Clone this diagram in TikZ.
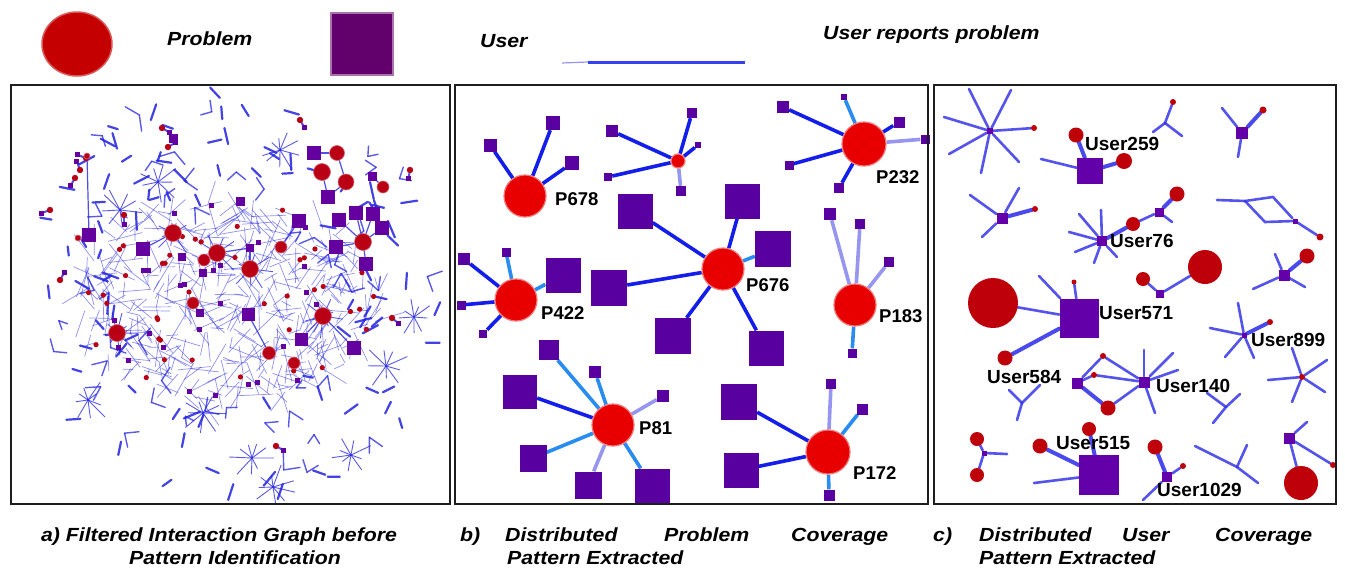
\documentclass[tikz,border=0pt]{standalone}
\usepackage{fontspec}
\setmainfont{Liberation Sans}
\newfontfamily\capfont[FakeStretch=1.12]{Liberation Sans}
\usetikzlibrary{backgrounds,shapes.geometric,calc}

\definecolor{legred}{RGB}{196,0,0}
\definecolor{legpurple}{RGB}{98,0,108}
\definecolor{bred}{RGB}{232,0,0}
\definecolor{bredrim}{RGB}{240,120,120}
\definecolor{bpurple}{RGB}{88,0,160}
\definecolor{dblue}{RGB}{20,30,235}
\definecolor{sky}{RGB}{40,140,240}
\definecolor{pale}{RGB}{150,150,240}
\definecolor{cred}{RGB}{190,0,10}
\definecolor{cpurple}{RGB}{100,0,170}
\definecolor{cblue}{RGB}{55,55,235}
\definecolor{ared}{RGB}{185,0,20}
\definecolor{apurple}{RGB}{100,0,160}
\definecolor{ablue}{RGB}{35,35,225}
\definecolor{framecol}{RGB}{30,30,30}

\tikzset{
  prob/.style={circle, inner sep=0pt, minimum size=#1, fill=bred, draw=bredrim, line width=1.2pt},
  usr/.style={rectangle, inner sep=0pt, minimum size=#1, fill=bpurple},
  edark/.style={draw=dblue, line width=3.6pt},
  esky/.style={draw=sky, line width=3.6pt},
  epale/.style={draw=pale, line width=3.6pt},
  plabel/.style={font=\fontsize{18.5}{20}\selectfont\bfseries, inner sep=0pt, anchor=west},
  cprob/.style={circle, inner sep=0pt, minimum size=#1, fill=cred},
  cusr/.style={rectangle, inner sep=0pt, minimum size=#1, fill=cpurple},
  cedge/.style={draw=cblue, line width=2.6pt, opacity=0.85, line cap=round},
  cthick/.style={draw=cblue, line width=4pt, opacity=0.9, line cap=round},
  ulabel/.style={font=\fontsize{19}{20}\selectfont\bfseries, inner sep=0pt, anchor=west},
  aprob/.style={circle, inner sep=0pt, minimum size=#1, fill=ared, draw=ared!60!white, line width=0.6pt},
  ausr/.style={rectangle, inner sep=0pt, minimum size=#1, fill=apurple},
  aweb/.style={draw=ablue, line width=0.7pt, opacity=0.5},
  aseg/.style={draw=ablue, line width=2.2pt, opacity=0.85, line cap=round},
  alink/.style={draw=ablue, line width=1.2pt, opacity=0.8},
  captxt/.style={font=\capfont\fontsize{19}{21}\selectfont\bfseries\itshape, inner sep=0pt, anchor=base west},
  panel/.style={draw=framecol, line width=2pt},
}

% spokes from a hub to named free ends
\newcommand\fan[3]{%
  \foreach \fx/\fy [count=\fk] in {#3}{%
    \coordinate (#2\fk) at (\fx,\fy);
    \draw[cedge] (#1) -- (#2\fk);}}

\begin{document}
\begin{tikzpicture}[x=1pt,y=-1pt]
\useasboundingbox (0,0) rectangle (1345,571);
\begin{scope}[on background layer]
  \fill[white] (0,0) rectangle (1345,571);
\end{scope}

% ---------------- legend ----------------
\node[ellipse, minimum width=70, minimum height=64, inner sep=0pt, fill=legred, draw=legred!65!white, line width=1.5pt] (legP) at (77,44) {};
\node[font=\capfont\fontsize{19}{21}\selectfont\bfseries\itshape, anchor=base west, inner sep=0pt] (legPt) at (167,45) {Problem};
\node[rectangle, minimum width=62, minimum height=62, inner sep=0pt, fill=legpurple, draw=legpurple!55!white, line width=2.5pt] (legU) at (362,44) {};
\node[font=\capfont\fontsize{19}{21}\selectfont\bfseries\itshape, anchor=base west, inner sep=0pt] (legUt) at (480,47) {User};
\coordinate (legA) at (562,63);
\coordinate (legB) at (588,62);
\coordinate (legC) at (745,62);
\draw[draw=pale, line width=1.2pt] (legA) -- (legB);
\draw[draw=dblue!85!white, line width=3pt] (legB) -- (legC);
\node[font=\capfont\fontsize{19}{21}\selectfont\bfseries\itshape, anchor=base west, inner sep=0pt] (legEt) at (823,39) {User reports problem};

% ---------------- panel a: filtered interaction graph ----------------
\begin{scope}
  \clip (12,86) rectangle (448,503);
  \pgfmathsetseed{4242}
  % scattered short fragments on an outer ring
  \foreach \i in {1,...,95}{
    \pgfmathsetmacro\qr{0.5+0.5*rnd}
    \pgfmathsetmacro\qa{360*rnd}
    \pgfmathsetmacro\qx{230+212*\qr*cos(\qa)}
    \pgfmathsetmacro\qy{295+205*\qr*sin(\qa)}
    \pgfmathsetmacro\qb{360*rnd}
    \pgfmathsetmacro\ql{9+9*rnd}
    \draw[aseg] (\qx,\qy) -- ++(\qb:\ql);
  }
  % scattered V-shaped pairs
  \foreach \i in {1,...,45}{
    \pgfmathsetmacro\qr{0.45+0.55*rnd}
    \pgfmathsetmacro\qa{360*rnd}
    \pgfmathsetmacro\qx{230+212*\qr*cos(\qa)}
    \pgfmathsetmacro\qy{295+205*\qr*sin(\qa)}
    \pgfmathsetmacro\qb{360*rnd}
    \pgfmathsetmacro\qc{\qb+50+80*rnd}
    \pgfmathsetmacro\ql{9+8*rnd}
    \draw[aseg, line width=1.4pt, opacity=0.75] (\qx,\qy) -- ++(\qb:\ql);
    \draw[aseg, line width=1.4pt, opacity=0.75] (\qx,\qy) -- ++(\qc:\ql);
  }
  % dense web in the middle
  \foreach \i in {1,...,430}{
    \pgfmathsetmacro\qr{sqrt(rnd)}
    \pgfmathsetmacro\qa{360*rnd}
    \pgfmathsetmacro\qx{228+152*\qr*cos(\qa)}
    \pgfmathsetmacro\qy{300+100*\qr*sin(\qa)}
    \pgfmathsetmacro\qb{360*rnd}
    \pgfmathsetmacro\ql{10+28*rnd}
    \draw[aweb] (\qx,\qy) -- ++(\qb:\ql);
  }
  % small stars
  \foreach \hx/\hy in {117/333, 203/413, 88/400, 252/458, 351/455, 386/366, 414/317, 273/487, 158/182, 217/253, 323/316, 173/233, 250/269, 280/150, 120/210}{
    \foreach \k in {1,...,9}{
      \pgfmathsetmacro\qb{40*\k+25*rnd}
      \pgfmathsetmacro\ql{10+14*rnd}
      \draw[aweb, opacity=0.75, line width=0.9pt] (\hx,\hy) -- ++(\qb:\ql);
    }
  }
  % small problems and users inside the web
  \foreach \i in {1,...,40}{
    \pgfmathsetmacro\qr{sqrt(rnd)}
    \pgfmathsetmacro\qa{360*rnd}
    \pgfmathsetmacro\qx{228+150*\qr*cos(\qa)}
    \pgfmathsetmacro\qy{298+100*\qr*sin(\qa)}
    \fill[ared] (\qx,\qy) circle (2.6);
  }
  \foreach \i in {1,...,28}{
    \pgfmathsetmacro\qr{sqrt(rnd)}
    \pgfmathsetmacro\qa{360*rnd}
    \pgfmathsetmacro\qx{228+150*\qr*cos(\qa)}
    \pgfmathsetmacro\qy{298+100*\qr*sin(\qa)}
    \fill[apurple] (\qx-2.5,\qy-2.5) rectangle ++(5,5);
  }
  % dumbbells: one user, one problem
  \foreach \hx/\hy/\ha in {162/128/30, 75/178/120, 60/280/-60, 86/158/200, 392/318/40, 276/446/30, 124/215/90, 168/147/-30, 80/170/250, 410/170/100, 300/120/60, 50/210/160}{
    \draw[alink, line width=2pt] (\hx,\hy) -- ++(\ha:9);
    \fill[ared] (\hx,\hy) circle (3.2);
    \fill[apurple] ($(\hx,\hy)+(\ha:9)$) ++(-2.5,-2.5) rectangle ++(5,5);
  }
\end{scope}

% larger problems and users of panel a
\foreach \nx/\ny/\ns [count=\n] in {314/153/14, 328/197/14, 372/176/9, 356/213/14, 373/214/14, 339/220/14, 382/228/14, 336/247/14, 366/264/14, 299/221/14, 240/201/9, 143/249/14, 89/235/14, 173/138/9, 182/257/8, 203/273/8, 250/248/8, 248/314/13, 301/339/13, 354/348/14, 200/313/8}{
  \node[ausr=\ns] (au\n) at (\nx,\ny) {};
}
\foreach \nx/\ny/\ns [count=\n] in {337/153/15, 322/172/17, 346/182/16, 383/187/12, 363/242/17, 173/233/17, 217/253/17, 204/260/12, 250/269/17, 281/247/12, 193/303/12, 323/316/17, 117/333/17, 269/353/13, 294/363/12, 87/156/6, 78/238/6}{
  \node[aprob=\ns] (ap\n) at (\nx,\ny) {};
}
\begin{scope}[on background layer]
  \draw[alink] (au1) -- (ap1);
  \draw[alink] (ap2) -- (au2);
  \draw[alink] (ap3) -- (au2);
  \draw[alink] (ap1) -- (ap3);
  \draw[alink] (au4) -- (ap5);
  \draw[alink] (au5) -- (ap5);
  \draw[alink] (au7) -- (ap5);
  \draw[alink] (au6) -- (ap5);
  \draw[alink] (au8) -- (ap5);
  \draw[alink] (au9) -- (ap5);
  \draw[alink] (au3) -- (ap4);
  \draw[alink] (au12) -- (ap6);
  \draw[alink] (au13) -- (ap16);
  \draw[alink] (au13) -- (ap17);
  \draw[alink] (ap7) -- (ap8);
  \draw[alink] (ap7) -- (au17);
  \draw[alink] (ap9) -- (au17);
  \draw[alink] (ap12) -- (au20);
  \draw[alink] (ap12) -- (au19);
  \draw[alink] (ap14) -- (au18);
  \draw[alink] (ap11) -- (au21);
  \draw[alink] (ap10) -- (au10);
\end{scope}

% ---------------- panel b: distributed problem coverage ----------------
\node[prob=42] (p678) at (525,196) {};
\node[usr=13] (b1) at (490,145) {};
\node[usr=14] (b2) at (553,123) {};
\node[usr=14] (b3) at (572,163) {};
\node[plabel] (l678) at (555,199) {P678};

\node[prob=14] (p0) at (678,161) {};
\node[usr=12] (b4) at (612,131) {};
\node[usr=8] (b5) at (608,177) {};
\node[usr=10] (b6) at (681,191) {};
\node[usr=10] (b7) at (692,113) {};
\node[usr=6] (b8) at (698,145) {};

\node[prob=42] (p676) at (723,269) {};
\node[usr=35] (b9) at (635,211) {};
\node[usr=35] (b10) at (742,201) {};
\node[usr=36] (b11) at (773,249) {};
\node[usr=36] (b12) at (609,288) {};
\node[usr=36] (b13) at (673,336) {};
\node[usr=35] (b14) at (766,348) {};
\node[plabel] (l676) at (746,285) {P676};

\node[prob=44] (p232) at (864,144) {};
\node[usr=12] (b15) at (783,107) {};
\node[usr=6] (b16) at (844,97) {};
\node[usr=11] (b17) at (899,122) {};
\node[usr=9] (b18) at (925,139) {};
\node[usr=9] (b19) at (789,165) {};
\node[usr=10] (b20) at (839,188) {};
\node[plabel] (l232) at (876,177) {P232};

\node[prob=42] (p183) at (855,305) {};
\node[usr=12] (b21) at (830,214) {};
\node[usr=10] (b22) at (860,224) {};
\node[usr=10] (b23) at (889,262) {};
\node[usr=9] (b24) at (852,353) {};
\node[plabel] (l183) at (879,316) {P183};

\node[prob=42] (p422) at (516,300) {};
\node[usr=12] (b25) at (464,259) {};
\node[usr=9] (b26) at (506,252) {};
\node[usr=35] (b27) at (563,275) {};
\node[usr=9] (b28) at (461,305) {};
\node[usr=8] (b29) at (483,334) {};
\node[plabel] (l422) at (541,313) {P422};

\node[prob=42] (p81) at (613,425) {};
\node[usr=20] (b30) at (549,350) {};
\node[usr=12] (b31) at (595,372) {};
\node[usr=12] (b32) at (663,396) {};
\node[usr=34] (b33) at (520,392) {};
\node[usr=27] (b34) at (533,458) {};
\node[usr=27] (b35) at (588,485) {};
\node[usr=35] (b36) at (652,486) {};
\node[plabel] (l81) at (639,428) {P81};

\node[prob=44] (p172) at (828,452) {};
\node[usr=36] (b37) at (739,402) {};
\node[usr=35] (b38) at (741,470) {};
\node[usr=10] (b39) at (831,384) {};
\node[usr=11] (b40) at (862,409) {};
\node[usr=11] (b41) at (829,495) {};
\node[plabel] (l172) at (853,473) {P172};

\begin{scope}[on background layer]
  \draw[edark] (p678) -- (b1);
  \draw[edark] (p678) -- (b2);
  \draw[edark] (p678) -- (b3);
  \draw[edark] (p0) -- (b4);
  \draw[edark] (p0) -- (b5);
  \draw[epale] (p0) -- (b6);
  \draw[edark] (p0) -- (b7);
  \draw[edark] (p0) -- (b8);
  \draw[edark] (p676) -- (b9);
  \draw[edark] (p676) -- (b10);
  \draw[esky] (p676) -- (b11);
  \draw[edark] (p676) -- (b12);
  \draw[edark] (p676) -- (b13);
  \draw[edark] (p676) -- (b14);
  \draw[edark] (p232) -- (b15);
  \draw[esky] (p232) -- (b16);
  \draw[edark] (p232) -- (b17);
  \draw[epale] (p232) -- (b18);
  \draw[edark] (p232) -- (b19);
  \draw[edark] (p232) -- (b20);
  \draw[epale] (p183) -- (b21);
  \draw[epale] (p183) -- (b22);
  \draw[epale] (p183) -- (b23);
  \draw[esky] (p183) -- (b24);
  \draw[edark] (p422) -- (b25);
  \draw[esky] (p422) -- (b26);
  \draw[esky] (p422) -- (b27);
  \draw[edark] (p422) -- (b28);
  \draw[edark] (p422) -- (b29);
  \draw[esky] (p81) -- (b30);
  \draw[esky] (p81) -- (b31);
  \draw[epale] (p81) -- (b32);
  \draw[edark] (p81) -- (b33);
  \draw[esky] (p81) -- (b34);
  \draw[epale] (p81) -- (b35);
  \draw[esky] (p81) -- (b36);
  \draw[edark] (p172) -- (b37);
  \draw[edark] (p172) -- (b38);
  \draw[epale] (p172) -- (b39);
  \draw[esky] (p172) -- (b40);
  \draw[esky] (p172) -- (b41);
\end{scope}

% ---------------- panel c: distributed user coverage ----------------
\node[cusr=6] (s1) at (990,131) {};
\node[cprob=6] (s1r) at (1034,128) {};
\node[cusr=26] (u259) at (1090,171) {};
\node[cprob=15] (u259a) at (1076,135) {};
\node[cprob=16] (u259b) at (1124,161) {};
\coordinate (y1) at (1165,123);
\node[cprob=6] (y1r) at (1173,102) {};
\node[cusr=12] (s3) at (1242,133) {};
\node[cprob=7] (s3r) at (1263,110) {};
\node[cusr=11] (s2) at (1002,218) {};
\node[cprob=6] (s2r) at (1035,209) {};
\node[cusr=10] (u76) at (1102,241) {};
\node[cprob=14] (u76a) at (1133,224) {};
\node[cusr=9] (u76s) at (1159,212) {};
\node[cprob=15] (u76b) at (1177,194) {};
\coordinate (d1) at (1217,200);
\coordinate (d2) at (1245,201);
\coordinate (d3) at (1273,197);
\node[cusr=5] (d4) at (1295,221) {};
\coordinate (d5) at (1265,222);
\node[cprob=7] (d6) at (1320,237) {};
\node[cprob=34] (bc1) at (1205,267) {};
\node[cprob=14] (bc2) at (1143,279) {};
\node[cusr=8] (bc3) at (1160,294) {};
\node[cusr=11] (s4) at (1284,275) {};
\node[cprob=15] (s4r) at (1307,256) {};
\node[cprob=50] (u571a) at (993,303) {};
\node[cusr=39] (u571) at (1079,318) {};
\node[cprob=15] (u571b) at (1005,358) {};
\node[cprob=5] (u571r) at (1074,282) {};
\coordinate (y2) at (1022,403);
\node[cusr=11] (g1) at (1077,383) {};
\node[cprob=6] (g2) at (1103,356) {};
\node[cprob=6] (g3) at (1094,375) {};
\node[cprob=15] (g4) at (1108,408) {};
\node[cusr=11] (u140) at (1144,382) {};
\node[cusr=5] (u899) at (1244,335) {};
\node[cprob=6] (u899r) at (1270,322) {};
\node[cprob=6] (s5) at (1302,377) {};
\coordinate (y3) at (1226,407);
\node[cusr=5] (bl0) at (984,453) {};
\node[cprob=14] (bl1) at (977,439) {};
\node[cprob=14] (bl2) at (977,475) {};
\node[cusr=40] (u515) at (1099,475) {};
\node[cprob=15] (u515a) at (1040,446) {};
\node[cprob=14] (u515b) at (1089,429) {};
\node[cprob=15] (u1029a) at (1155,447) {};
\node[cusr=10] (u1029) at (1167,477) {};
\node[cprob=6] (u1029r) at (1183,466) {};
\coordinate (y4) at (1237,467);
\node[cusr=11] (br) at (1289,438) {};
\node[cprob=34] (brc) at (1301,483) {};
\node[cprob=6] (brr) at (1333,465) {};

\begin{scope}[on background layer]
  \draw[cedge] (s1) -- (s1r);
  \fan{s1}{s1e}{969/89, 1011/90, 944/117, 949/154, 981/173, 1019/162}
  \draw[cthick] (u259) -- (u259a);
  \draw[cthick] (u259) -- (u259b);
  \fan{u259}{u259e}{1041/159}
  \draw[cedge] (y1) -- (y1r);
  \fan{y1}{y1e}{1153/132, 1182/136}
  \draw[cthick] (s3) -- (s3r);
  \fan{s3}{s3e}{1222/108, 1238/157}
  \draw[cthick] (s2) -- (s2r);
  \fan{s2}{s2e}{970/195, 1019/188, 982/237}
  \fan{u76}{u76e}{1079/214, 1101/210, 1069/232, 1075/252, 1094/263, 1117/257}
  \draw[cthick] (u76) -- (u76a);
  \draw[cedge] (u76a) -- (u76s);
  \draw[cthick] (u76s) -- (u76b);
  \fan{u76s}{u76f}{1172/222}
  \draw[cedge] (d1) -- (d2) -- (d3) -- (d4);
  \draw[cedge] (d2) -- (d5) -- (d4);
  \draw[cedge] (d4) -- (d6);
  \draw[cedge] (bc1) -- (bc3);
  \draw[cedge] (bc2) -- (bc3);
  \draw[cthick] (s4) -- (s4r);
  \fan{s4}{s4e}{1275/254, 1253/289, 1305/287}
  \draw[cedge] (u571a) -- (u571);
  \draw[cthick] (u571) -- (u571b);
  \draw[cedge] (u571) -- (u571r);
  \fan{u571}{u571e}{1039/276}
  \fan{y2}{y2e}{1009/390, 1040/385, 1017/420}
  \draw[cedge] (g1) -- (g2);
  \draw[cedge] (g1) -- (g3);
  \draw[cthick] (g1) -- (g4);
  \draw[cedge] (g2) -- (u140);
  \draw[cedge] (g3) -- (u140);
  \draw[cedge] (g4) -- (u140);
  \fan{u140}{u140e}{1144/350, 1173/353, 1178/370, 1155/413}
  \draw[cthick] (u899) -- (u899r);
  \fan{u899}{u899e}{1238/303, 1210/328, 1225/357, 1254/358}
  \fan{s5}{s5e}{1292/348, 1327/360, 1268/380, 1325/392, 1292/402}
  \fan{y3}{y3e}{1207/393, 1240/394, 1213/423}
  \draw[cedge] (bl0) -- (bl1);
  \draw[cedge] (bl0) -- (bl2);
  \fan{bl0}{bl0e}{1007/454}
  \draw[cthick] (u515) -- (u515a);
  \draw[cthick] (u515) -- (u515b);
  \fan{u515}{u515e}{1034/483}
  \draw[cthick] (u1029) -- (u1029a);
  \draw[cedge] (u1029) -- (u1029r);
  \fan{u1029}{u1029e}{1143/500}
  \fan{y4}{y4e}{1195/446, 1247/445, 1258/483}
  \draw[cedge] (br) -- (brc);
  \draw[cedge] (br) -- (brr);
  \fan{br}{bre}{1307/422}
\end{scope}

\node[ulabel] (lu259) at (1085,144) {User259};
\node[ulabel] (lu76) at (1110,241) {User76};
\node[ulabel] (lu571) at (1099,313) {User571};
\node[ulabel] (lu584) at (987,377) {User584};
\node[ulabel] (lu140) at (1156,386) {User140};
\node[ulabel] (lu899) at (1251,340) {User899};
\node[ulabel] (lu515) at (1056,443) {User515};
\node[ulabel] (lu1029) at (1157,490) {User1029};

% ---------------- panel frames ----------------
\draw[panel] (11,85) rectangle (450,504);
\draw[panel] (455,85) rectangle (928,504);
\draw[panel] (934,85) rectangle (1336,504);

% ---------------- captions ----------------
\node[captxt, anchor=base] (ca1) at (219,541) {a) Filtered Interaction Graph before};
\node[captxt, anchor=base] (ca2) at (235,564) {Pattern Identification};
\node[captxt] (cb1) at (460,541) {b)};
\node[captxt] (cb2) at (505,541) {Distributed};
\node[captxt] (cb3) at (664,541) {Problem};
\node[captxt] (cb4) at (791,541) {Coverage};
\node[captxt] (cb5) at (507,564) {Pattern Extracted};
\node[captxt] (cc1) at (933,541) {c)};
\node[captxt] (cc2) at (979,541) {Distributed};
\node[captxt] (cc3) at (1122,541) {User};
\node[captxt] (cc4) at (1215,541) {Coverage};
\node[captxt] (cc5) at (979,564) {Pattern Extracted};
\end{tikzpicture}
\end{document}
